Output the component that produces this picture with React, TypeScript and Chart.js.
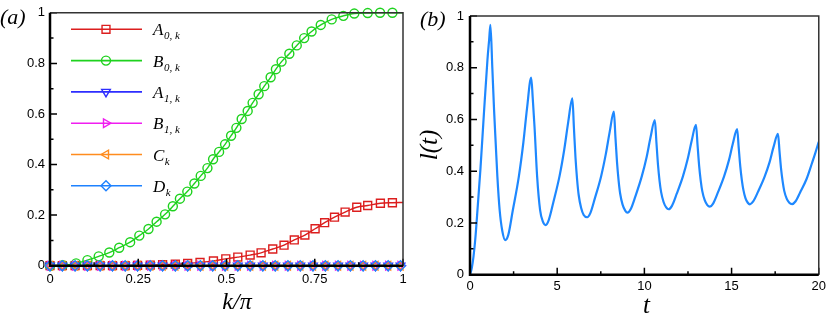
import React, { useEffect, useRef } from "react";
import { Chart, registerables } from "chart.js";
import { drawPoint } from "chart.js/helpers";

Chart.register(...registerables);

// ---------- Panel (a) data: marker positions (last entry = line end, no marker) ----------
const kA0 = [0, 0.035, 0.071, 0.106, 0.142, 0.177, 0.213, 0.248, 0.284, 0.319, 0.355, 0.39, 0.425, 0.463, 0.498, 0.532, 0.567, 0.598, 0.631, 0.663, 0.692, 0.722, 0.751, 0.778, 0.806, 0.836, 0.869, 0.9, 0.936, 0.97, 1];
const valA0 = [0, 0, 0, 0, 0, 0, 0, 0.001, 0.002, 0.004, 0.006, 0.009, 0.013, 0.019, 0.027, 0.034, 0.042, 0.051, 0.066, 0.081, 0.102, 0.121, 0.146, 0.17, 0.192, 0.212, 0.231, 0.238, 0.247, 0.249, 0.25];

const kB0 = [0, 0.036, 0.074, 0.106, 0.138, 0.168, 0.196, 0.227, 0.253, 0.279, 0.302, 0.326, 0.348, 0.368, 0.389, 0.409, 0.427, 0.446, 0.462, 0.479, 0.496, 0.513, 0.528, 0.543, 0.56, 0.574, 0.591, 0.607, 0.625, 0.64, 0.656, 0.678, 0.699, 0.72, 0.741, 0.767, 0.798, 0.831, 0.862, 0.9, 0.935, 0.97, 1];
const valB0 = [0, 0.002, 0.009, 0.022, 0.037, 0.052, 0.071, 0.093, 0.119, 0.145, 0.174, 0.203, 0.235, 0.265, 0.293, 0.325, 0.355, 0.386, 0.421, 0.45, 0.48, 0.514, 0.545, 0.58, 0.612, 0.644, 0.678, 0.71, 0.745, 0.777, 0.807, 0.838, 0.871, 0.9, 0.926, 0.952, 0.974, 0.988, 0.997, 0.999, 1, 1, 1];

const kFlat = [0, 0.035, 0.071, 0.106, 0.142, 0.177, 0.213, 0.248, 0.284, 0.319, 0.355, 0.39, 0.426, 0.461, 0.496, 0.532, 0.567, 0.603, 0.638, 0.674, 0.709, 0.745, 0.78, 0.816, 0.851, 0.887, 0.922, 0.958, 0.993, 1];
const valA1 = [0, 0, 0, 0, 0, 0, 0, 0, 0, 0, 0, 0, 0, 0, 0, 0, 0, 0, 0, 0, 0, 0, 0, 0, 0, 0, 0, 0, 0, 0];
const valB1 = [0, 0, 0, 0, 0, 0, 0, 0, 0, 0, 0, 0, 0, 0, 0, 0, 0, 0, 0, 0, 0, 0, 0, 0, 0, 0, 0, 0, 0, 0];
const valC = [0, 0, 0, 0, 0, 0, 0, 0, 0, 0, 0, 0, 0, 0, 0, 0, 0, 0, 0, 0, 0, 0, 0, 0, 0, 0, 0, 0, 0, 0];
const valD = [0, 0, 0, 0, 0, 0, 0, 0, 0, 0, 0, 0, 0, 0, 0, 0, 0, 0, 0, 0, 0, 0, 0, 0, 0, 0, 0, 0, 0, 0];

const legendMain = ["A", "B", "A", "B", "C", "D"];
const legendSub = ["0, k", "0, k", "1, k", "1, k", "k", "k"];

const aXMajor = [0, 0.25, 0.5, 0.75, 1];
const aXLabels = ["0", "0.25", "0.5", "0.75", "1"];
const aXMinor = [0.125, 0.375, 0.625, 0.875];
const yMajor = [0, 0.2, 0.4, 0.6, 0.8, 1];
const yLabels = ["0", "0.2", "0.4", "0.6", "0.8", "1"];
const yMinor = [0.1, 0.3, 0.5, 0.7, 0.9];

// ---------- Panel (b) data ----------
const tTime = [
  0, 0.1, 0.2, 0.3, 0.45, 0.6, 0.8, 1.0, 1.1, 1.17,
  1.28, 1.38, 1.48, 1.57, 1.7, 1.85, 2.02,
  2.2, 2.45, 2.8, 3.06, 3.27, 3.51,
  3.6, 3.7, 3.85, 4.02, 4.18, 4.34,
  4.52, 4.78, 5.14, 5.41, 5.63, 5.87,
  5.96, 6.05, 6.14, 6.23, 6.37, 6.52, 6.72,
  6.9, 7.16, 7.52, 7.79, 8.01, 8.25,
  8.34, 8.43, 8.52, 8.61, 8.75, 8.9, 9.03,
  9.22, 9.49, 9.85, 10.13, 10.35, 10.6,
  10.69, 10.78, 10.87, 10.96, 11.1, 11.25, 11.39,
  11.58, 11.85, 12.21, 12.49, 12.71, 12.96,
  13.05, 13.14, 13.23, 13.32, 13.46, 13.61, 13.75,
  13.94, 14.21, 14.57, 14.85, 15.07, 15.32,
  15.41, 15.5, 15.59, 15.68, 15.8, 15.93, 16.05,
  16.24, 16.52, 16.89, 17.18, 17.4, 17.66,
  17.75, 17.84, 17.93, 18.02, 18.16, 18.31, 18.47,
  18.66, 18.93, 19.3, 19.58, 19.8, 20,
];
const lValue = [
  0, 0.025, 0.07, 0.135, 0.27, 0.41, 0.625, 0.83, 0.91, 0.966,
  0.8, 0.637, 0.5, 0.379, 0.25, 0.17, 0.134,
  0.155, 0.247, 0.379, 0.511, 0.643, 0.762,
  0.68, 0.572, 0.379, 0.25, 0.205, 0.192,
  0.212, 0.28, 0.383, 0.486, 0.589, 0.682,
  0.567, 0.452, 0.369, 0.309, 0.259, 0.231, 0.222,
  0.238, 0.295, 0.381, 0.467, 0.552, 0.63,
  0.532, 0.435, 0.365, 0.314, 0.271, 0.248, 0.24,
  0.254, 0.304, 0.38, 0.455, 0.53, 0.598,
  0.512, 0.425, 0.363, 0.319, 0.281, 0.26, 0.253,
  0.266, 0.312, 0.38, 0.449, 0.517, 0.579,
  0.5, 0.421, 0.364, 0.323, 0.288, 0.269, 0.263,
  0.275, 0.317, 0.38, 0.443, 0.506, 0.563,
  0.49, 0.418, 0.365, 0.327, 0.295, 0.278, 0.272,
  0.283, 0.321, 0.378, 0.435, 0.492, 0.544,
  0.476, 0.408, 0.36, 0.324, 0.294, 0.278, 0.273,
  0.283, 0.318, 0.37, 0.425, 0.47, 0.514,
];
const bXMajor = [0, 5, 10, 15, 20];
const bXLabels = ["0", "5", "10", "15", "20"];
const bXMinor = [2.5, 7.5, 12.5, 17.5];

// ---------- styles ----------
const TICK_FONT = { family: "'Liberation Sans', Arial, sans-serif", size: 13 };
const SERIF = "'Liberation Serif', 'Times New Roman', serif";

const seriesStyles = [
  { color: "#dc1e1e", pointStyle: "rect", radius: 5.6, rotation: 0 },
  { color: "#1ed21e", pointStyle: "circle", radius: 4.5, rotation: 0 },
  { color: "#2d2dff", pointStyle: "triangle", radius: 5, rotation: 180 },
  { color: "#f01ef0", pointStyle: "triangle", radius: 5, rotation: 90 },
  { color: "#ff8c1e", pointStyle: "triangle", radius: 5, rotation: -90 },
  { color: "#1e82ff", pointStyle: "rectRot", radius: 5, rotation: 0 },
];

function toPts(xs: number[], ys: number[]) {
  return xs.map((x, i) => ({ x, y: ys[i] }));
}

function framePlugin(xMajor: number[], xMinor: number[], yMaj: number[], yMin: number[]) {
  return {
    id: "frame",
    afterDatasetsDraw(chart: any) {
      const { ctx, chartArea: a, scales } = chart;
      const x = scales.x;
      const y = scales.y;
      ctx.save();
      ctx.strokeStyle = "#000";
      ctx.lineWidth = 1.5;
      ctx.beginPath();
      for (const v of xMajor) {
        const p = x.getPixelForValue(v);
        ctx.moveTo(p, a.bottom);
        ctx.lineTo(p, a.bottom - 7);
      }
      for (const v of xMinor) {
        const p = x.getPixelForValue(v);
        ctx.moveTo(p, a.bottom);
        ctx.lineTo(p, a.bottom - 3.5);
      }
      for (const v of yMaj) {
        const p = y.getPixelForValue(v);
        ctx.moveTo(a.left, p);
        ctx.lineTo(a.left + 7, p);
      }
      for (const v of yMin) {
        const p = y.getPixelForValue(v);
        ctx.moveTo(a.left, p);
        ctx.lineTo(a.left + 3.5, p);
      }
      ctx.stroke();
      ctx.strokeStyle = "#333";
      ctx.lineWidth = 1.5;
      ctx.beginPath();
      ctx.moveTo(a.left, a.top);
      ctx.lineTo(a.right, a.top);
      ctx.lineTo(a.right, a.bottom);
      ctx.stroke();
      ctx.strokeStyle = "#000";
      ctx.lineWidth = 2.5;
      ctx.beginPath();
      ctx.moveTo(a.left, a.top);
      ctx.lineTo(a.left, a.bottom);
      ctx.lineTo(a.right, a.bottom);
      ctx.stroke();
      ctx.restore();
    },
  };
}

const legendPlugin = {
  id: "tecLegend",
  afterDraw(chart: any) {
    const ctx = chart.ctx;
    ctx.save();
    seriesStyles.forEach((s, i) => {
      const yy = 29.3 + i * 31.3;
      ctx.strokeStyle = s.color;
      ctx.lineWidth = 1.6;
      ctx.beginPath();
      ctx.moveTo(71, yy);
      ctx.lineTo(142, yy);
      ctx.stroke();
      ctx.fillStyle = "rgba(0,0,0,0)";
      ctx.lineWidth = 1.4;
      drawPoint(ctx, { pointStyle: s.pointStyle, radius: s.radius, rotation: s.rotation, borderWidth: 1.4 } as any, 106, yy);
      ctx.fillStyle = "#000";
      ctx.textAlign = "left";
      ctx.textBaseline = "alphabetic";
      ctx.font = `italic 17px ${SERIF}`;
      ctx.fillText(legendMain[i], 153, yy + 6);
      const w = ctx.measureText(legendMain[i]).width;
      ctx.font = `italic 11px ${SERIF}`;
      ctx.fillText(legendSub[i], 153 + w + 0.5, yy + 10);
    });
    ctx.restore();
  },
};

function textPlugin(items: { text: string; x: number; y: number; size: number; rot?: number; align?: string }[]) {
  return {
    id: "texts",
    afterDraw(chart: any) {
      const ctx = chart.ctx;
      ctx.save();
      ctx.fillStyle = "#000";
      ctx.textBaseline = "alphabetic";
      for (const it of items) {
        ctx.save();
        ctx.translate(it.x, it.y);
        if (it.rot) ctx.rotate(it.rot);
        ctx.font = `italic ${it.size}px ${SERIF}`;
        ctx.textAlign = (it.align || "center") as any;
        ctx.fillText(it.text, 0, 0);
        ctx.restore();
      }
      ctx.restore();
    },
  };
}

function makeScale(min: number, max: number, values: number[], labels: string[], pad: number, fit: (s: any) => void) {
  return {
    type: "linear",
    min,
    max,
    grid: { display: false, drawTicks: false },
    border: { display: false },
    afterBuildTicks: (s: any) => {
      s.ticks = values.map((v) => ({ value: v }));
    },
    ticks: {
      color: "#000",
      font: TICK_FONT,
      padding: pad,
      autoSkip: false,
      maxRotation: 0,
      callback: (v: number) => {
        const i = values.findIndex((u) => Math.abs(u - v) < 1e-9);
        return i >= 0 ? labels[i] : "";
      },
    },
    afterFit: fit,
  };
}

export default function App() {
  const leftRef = useRef<HTMLCanvasElement>(null);
  const rightRef = useRef<HTMLCanvasElement>(null);

  useEffect(() => {
    const seriesData = [
      toPts(kA0, valA0),
      toPts(kB0, valB0),
      toPts(kFlat, valA1),
      toPts(kFlat, valB1),
      toPts(kFlat, valC),
      toPts(kFlat, valD),
    ];
    const left = new Chart(leftRef.current!, {
      type: "line",
      data: {
        datasets: seriesData.map((d, i) => {
          const s = seriesStyles[i];
          return {
            data: d,
            borderColor: s.color,
            borderWidth: 1.4,
            pointStyle: s.pointStyle as any,
            pointRotation: s.rotation,
            pointBorderColor: s.color,
            pointBackgroundColor: "rgba(0,0,0,0)",
            pointBorderWidth: 1.4,
            pointRadius: (c: any) => (c.dataIndex === c.dataset.data.length - 1 ? 0 : s.radius),
            cubicInterpolationMode: "monotone",
            clip: false,
            order: 5 - i,
          } as any;
        }),
      },
      options: {
        responsive: false,
        animation: false,
        devicePixelRatio: 1,
        layout: { padding: { left: 0, top: 7.5, right: 12, bottom: 0 } },
        plugins: { legend: { display: false }, tooltip: { enabled: false } },
        scales: {
          x: makeScale(0, 1, aXMajor, aXLabels, 6, (s: any) => { s.height = 49.3; }),
          y: makeScale(0, 1, yMajor, yLabels, 5, (s: any) => { s.width = 50; }),
        } as any,
      },
      plugins: [
        framePlugin(aXMajor, aXMinor, yMajor, yMinor),
        legendPlugin,
        textPlugin([
          { text: "(a)", x: 0, y: 24, size: 22, align: "left" },
          { text: "k/\u03c0", x: 237, y: 309, size: 24 },
        ]),
      ],
    });

    const right = new Chart(rightRef.current!, {
      type: "line",
      data: {
        datasets: [
          {
            data: toPts(tTime, lValue),
            borderColor: "#1e88ff",
            borderWidth: 2.2,
            pointRadius: 0,
            cubicInterpolationMode: "monotone",
          } as any,
        ],
      },
      options: {
        responsive: false,
        animation: false,
        devicePixelRatio: 1,
        layout: { padding: { left: 0, top: 16, right: 7, bottom: 0 } },
        plugins: { legend: { display: false }, tooltip: { enabled: false } },
        scales: {
          x: makeScale(0, 20, bXMajor, bXLabels, 4, (s: any) => { s.height = 40.3; }),
          y: makeScale(0, 1, yMajor, yLabels, 6, (s: any) => { s.width = 55; }),
        } as any,
      },
      plugins: [
        framePlugin(bXMajor, bXMinor, yMajor, yMinor),
        textPlugin([
          { text: "(b)", x: 5, y: 26, size: 22, align: "left" },
          { text: "l(t)", x: 22, y: 145, size: 25, rot: -Math.PI / 2 },
          { text: "t", x: 231.5, y: 313, size: 25 },
        ]),
      ],
    });

    return () => {
      left.destroy();
      right.destroy();
    };
  }, []);

  return (
    <div style={{ position: "fixed", left: 0, top: 0, width: 830, height: 315, background: "#fff", overflow: "hidden" }}>
      <canvas ref={leftRef} width={415} height={315} style={{ position: "absolute", left: 0, top: 0, width: 415, height: 315 }} />
      <canvas ref={rightRef} width={415} height={315} style={{ position: "absolute", left: 415, top: 0, width: 415, height: 315 }} />
    </div>
  );
}
